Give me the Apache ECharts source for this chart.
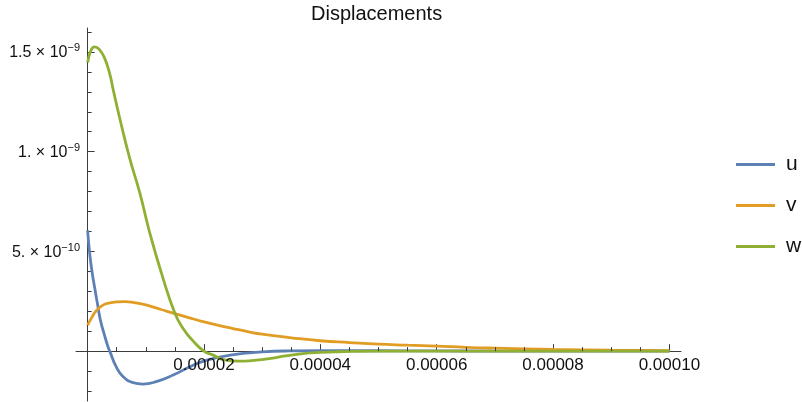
<!DOCTYPE html>
<html>
<head>
<meta charset="utf-8">
<script src="https://cdn.jsdelivr.net/npm/echarts@6/dist/echarts.min.js"></script>
<style>
  html, body { margin: 0; padding: 0; background: #fff; }
  #chart { width: 802px; height: 402px; }
</style>
</head>
<body>
<div id="chart"></div>
<script>
// Displacement components u, v, w against position
const uX = [0, 0.35e-6, 0.8e-6, 1.2e-6, 1.7e-6, 2.2e-6, 2.9e-6, 3.5e-6, 3.8e-6, 4.9e-6, 6.1e-6, 7.8e-6, 9.5e-6, 11.8e-6, 14.7e-6, 17.6e-6, 20.5e-6, 24.5e-6, 30e-6, 35e-6, 40e-6, 50e-6, 60e-6, 70e-6, 80e-6, 90e-6, 100e-6];
const uY = [0.605e-9, 0.49e-9, 0.39e-9, 0.32e-9, 0.235e-9, 0.155e-9, 0.08e-9, 0.022e-9, 0, -0.078e-9, -0.128e-9, -0.158e-9, -0.165e-9, -0.153e-9, -0.12e-9, -0.078e-9, -0.045e-9, -0.02e-9, -0.004e-9, 0.001e-9, 0.002e-9, 0.002e-9, 0.001e-9, 0.0005e-9, 0, 0, 0];

const vX = [0, 0.7e-6, 1.5e-6, 2.5e-6, 3.5e-6, 5e-6, 6.5e-6, 8e-6, 10e-6, 12.5e-6, 15e-6, 17.5e-6, 20e-6, 22.5e-6, 25e-6, 27.5e-6, 30e-6, 35e-6, 40e-6, 45e-6, 50e-6, 55e-6, 60e-6, 65e-6, 70e-6, 80e-6, 90e-6, 100e-6];
const vY = [0.13e-9, 0.168e-9, 0.203e-9, 0.228e-9, 0.24e-9, 0.247e-9, 0.248e-9, 0.243e-9, 0.232e-9, 0.21e-9, 0.188e-9, 0.167e-9, 0.147e-9, 0.129e-9, 0.113e-9, 0.098e-9, 0.085e-9, 0.067e-9, 0.052e-9, 0.043e-9, 0.035e-9, 0.03e-9, 0.025e-9, 0.019e-9, 0.015e-9, 0.009e-9, 0.005e-9, 0.002e-9];

const wX = [0, 0.6e-6, 1.2e-6, 2.0e-6, 2.9e-6, 3.8e-6, 4.4e-6, 5.5e-6, 7.2e-6, 9e-6, 10.7e-6, 12.7e-6, 15e-6, 16.5e-6, 18e-6, 20e-6, 21.6e-6, 23.3e-6, 26e-6, 29e-6, 31.5e-6, 34e-6, 37e-6, 40e-6, 43e-6, 50e-6, 60e-6, 70e-6, 80e-6, 90e-6, 100e-6];
const wY = [1.447e-9, 1.51e-9, 1.525e-9, 1.513e-9, 1.47e-9, 1.39e-9, 1.31e-9, 1.17e-9, 0.97e-9, 0.79e-9, 0.59e-9, 0.39e-9, 0.19e-9, 0.11e-9, 0.055e-9, 0, -0.02e-9, -0.042e-9, -0.05e-9, -0.045e-9, -0.036e-9, -0.024e-9, -0.012e-9, -0.006e-9, -0.003e-9, 0, 0, 0, 0, 0, 0];

const seriesNames = ['u', 'v', 'w'];
const seriesColors = ['#5E81B5', '#E19C24', '#8FB032'];

// axis ticks and labels
const xMajorTicks = [2e-5, 4e-5, 6e-5, 8e-5, 1e-4];
const xTickLabels = ['0.00002', '0.00004', '0.00006', '0.00008', '0.00010'];
const xMinorTicks = [5e-6, 1e-5, 1.5e-5, 2.5e-5, 3e-5, 3.5e-5, 4.5e-5, 5e-5, 5.5e-5, 6.5e-5, 7e-5, 7.5e-5, 8.5e-5, 9e-5, 9.5e-5];
const yMajorTicks = [5e-10, 1e-9, 1.5e-9];
const yMantissa = ['5.', '1.', '1.5'];
const yExponent = ['\u221210', '\u22129', '\u22129'];
const yMinorTicks = [-2e-10, -1e-10, 1e-10, 2e-10, 3e-10, 4e-10, 6e-10, 7e-10, 8e-10, 9e-10, 1.1e-9, 1.2e-9, 1.3e-9, 1.4e-9, 1.6e-9];

const X_MIN = -2e-6, X_MAX = 1.02e-4;
const Y_MIN = -2.5e-10, Y_MAX = 1.62e-9;

const pairs = (xs, ys) => xs.map((x, i) => [x, ys[i]]);
const seriesData = [pairs(uX, uY), pairs(vX, vY), pairs(wX, wY)];

// index of the nearest tick value
const nearest = (ticks, v) => {
  v = Number(v);
  let i = 0;
  for (let k = 1; k < ticks.length; k++) {
    if (Math.abs(ticks[k] - v) < Math.abs(ticks[i] - v)) i = k;
  }
  return i;
};

const axisColor = '#3c3c3c';
const font = '"Liberation Sans", Arial, sans-serif';

const gridBox = { left: 76, right: 121, top: 28, bottom: 1, outerBoundsMode: 'none' };

const chart = echarts.init(document.getElementById('chart'), null, { renderer: 'canvas' });
chart.setOption({
  animation: false,
  backgroundColor: '#fff',
  title: {
    text: 'Displacements',
    left: 311, top: 4, padding: 0,
    textStyle: { fontFamily: font, fontSize: 20, fontWeight: 'normal', color: '#111' }
  },
  legend: {
    orient: 'vertical',
    left: 731, top: 149,
    itemWidth: 39, itemHeight: 3, itemGap: 20,
    icon: 'rect',
    data: seriesNames,
    textStyle: { fontFamily: font, fontSize: 21, lineHeight: 21, color: '#111', padding: [0, 0, 0, 6] }
  },
  grid: [Object.assign({}, gridBox), Object.assign({}, gridBox)],
  xAxis: [
    {
      // main axis: line and major ticks, drawn beneath the curves
      type: 'value', gridIndex: 0, min: X_MIN, max: X_MAX,
      splitLine: { show: false },
      axisLine: { onZero: true, lineStyle: { color: axisColor, width: 1 } },
      axisTick: { inside: true, length: 7, customValues: xMajorTicks, lineStyle: { color: axisColor } },
      axisLabel: { show: false }
    },
    {
      // overlay axis: minor ticks and the tick labels, drawn above the curves
      type: 'value', gridIndex: 1, min: X_MIN, max: X_MAX, z: 10,
      splitLine: { show: false },
      axisLine: { onZero: true, lineStyle: { color: 'rgba(0,0,0,0)' } },
      axisTick: { inside: true, length: 4, customValues: xMinorTicks, lineStyle: { color: axisColor } },
      axisLabel: {
        customValues: xMajorTicks,
        // labels are laid out from the grid's bottom edge; pull them up under the zero line
        margin: -44,
        hideOverlap: false,
        fontFamily: font, fontSize: 17, color: '#111',
        formatter: v => xTickLabels[nearest(xMajorTicks, v)]
      }
    }
  ],
  yAxis: [
    {
      type: 'value', gridIndex: 0, min: Y_MIN, max: Y_MAX,
      splitLine: { show: false },
      axisLine: { onZero: true, lineStyle: { color: axisColor, width: 1 } },
      axisTick: { inside: true, length: 7, customValues: yMajorTicks, lineStyle: { color: axisColor } },
      axisLabel: {
        customValues: yMajorTicks,
        // measured from the grid's left edge, so the labels end just left of the zero line
        margin: -4,
        fontFamily: font, color: '#111',
        formatter: v => {
          const i = nearest(yMajorTicks, v);
          return '{m|' + yMantissa[i] + ' \u00d7 10}{e|' + yExponent[i] + '}';
        },
        rich: {
          m: { fontFamily: font, fontSize: 16, color: '#111', lineHeight: 18, verticalAlign: 'bottom' },
          e: { fontFamily: font, fontSize: 11, color: '#111', lineHeight: 11, verticalAlign: 'top' }
        }
      }
    },
    {
      type: 'value', gridIndex: 1, min: Y_MIN, max: Y_MAX,
      splitLine: { show: false },
      axisLine: { onZero: true, lineStyle: { color: 'rgba(0,0,0,0)' } },
      axisTick: { inside: true, length: 4, customValues: yMinorTicks, lineStyle: { color: axisColor } },
      axisLabel: { show: false }
    }
  ],
  series: seriesNames.map((name, i) => ({
    name: name,
    type: 'line',
    xAxisIndex: 0, yAxisIndex: 0,
    data: seriesData[i],
    showSymbol: false,
    smooth: 0.5,
    color: seriesColors[i],
    lineStyle: { width: 2.8, color: seriesColors[i] },
    z: 2 + i
  }))
});
</script>
</body>
</html>
